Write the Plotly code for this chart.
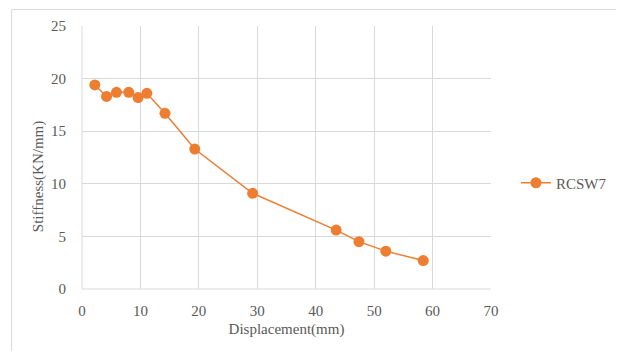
import plotly.graph_objs as go

# displacement (mm) vs stiffness (KN/mm)
displacement = [2.2, 4.2, 5.9, 8.0, 9.6, 11.1, 14.2, 19.3, 29.2, 43.5, 47.4, 52.0, 58.4]
stiffness = [19.4, 18.3, 18.7, 18.7, 18.2, 18.6, 16.7, 13.3, 9.1, 5.6, 4.5, 3.6, 2.7]
series_name = 'RCSW7'
x_title = 'Displacement(mm)'
y_title = 'Stiffness(KN/mm)'

orange = '#ED7D31'
grid = '#D9D9D9'
txt = '#595959'
serif = 'Liberation Serif, Times New Roman, serif'

data = [
    go.Scatter(x=displacement, y=stiffness, name=series_name,
               mode='lines+markers',
               line=dict(color=orange, width=1.5),
               marker=dict(color=orange, size=11))
]

# page body has an 8px margin, so the figure is laid out 8px up/left
layout = go.Layout(
    width=624, height=351,
    margin=dict(l=74, r=141, t=18, b=70, autoexpand=False),
    paper_bgcolor='white', plot_bgcolor='white',
    font=dict(family=serif, size=15, color=txt),
    showlegend=True,
    legend=dict(x=1.061, y=0.403, xanchor='left', yanchor='middle',
                itemwidth=30,
                font=dict(family=serif, size=15, color=txt),
                bgcolor='rgba(0,0,0,0)'),
    xaxis=dict(title=dict(text=x_title, standoff=5,
                          font=dict(family=serif, size=15, color=txt)),
               range=[0, 70], dtick=10, tick0=0,
               showgrid=True, gridcolor=grid, gridwidth=1,
               zeroline=False, showline=False,
               ticks='outside', ticklen=8, tickcolor='rgba(0,0,0,0)',
               tickfont=dict(family=serif, size=15, color=txt)),
    yaxis=dict(range=[0, 25], dtick=5, tick0=0,
               showgrid=True, gridcolor=grid, gridwidth=1,
               zeroline=False, showline=False,
               ticks='outside', ticklen=12, tickcolor='rgba(0,0,0,0)',
               tickfont=dict(family=serif, size=15, color=txt)),
    # y title sits a bit below the plot's middle in the reference
    annotations=[
        dict(text=y_title, xref='paper', yref='paper', x=-0.1076, y=0.429,
             xanchor='center', yanchor='middle', textangle=-90,
             showarrow=False, font=dict(family=serif, size=15, color=txt))
    ],
    shapes=[
        # chart frame like the spreadsheet export
        dict(type='rect', xref='paper', yref='paper',
             x0=-0.172, x1=1.317, y0=-0.4, y1=1.063,
             line=dict(color='#D9D9D9', width=1)),
        # box edges of the grid
        dict(type='line', xref='paper', yref='paper',
             x0=0, x1=1, y0=0, y1=0, line=dict(color=grid, width=1)),
        dict(type='line', xref='paper', yref='paper',
             x0=0, x1=0, y0=0, y1=1, line=dict(color=grid, width=1)),
    ],
)

fig = go.Figure(data=data, layout=layout)
fig.write_html("out.html")
